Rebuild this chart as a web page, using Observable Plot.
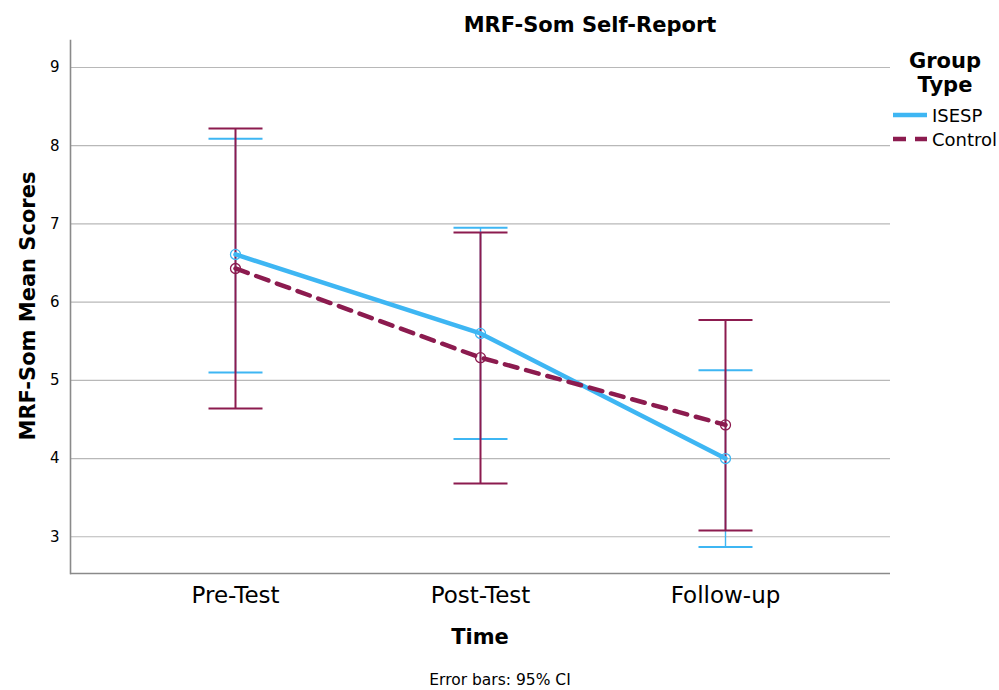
<!DOCTYPE html>
<html>
<head>
<meta charset="utf-8">
<script src="https://cdn.jsdelivr.net/npm/d3@7"></script>
<script src="https://cdn.jsdelivr.net/npm/@observablehq/plot@0.6"></script>
<style>
  html, body { margin: 0; padding: 0; background: #fff; }
  #wrap { position: relative; width: 999px; height: 690px; font-family: "DejaVu Sans", sans-serif; color: #000; }
  .abs { position: absolute; white-space: nowrap; transform: translate(-50%, -50%); }
  .legrow { position: absolute; display: flex; align-items: center; font-size: 18px; }
</style>
</head>
<body>
<div id="wrap"></div>
<script>
// ---- data ----
const times = ["Pre-Test", "Post-Test", "Follow-up"];
const groups = ["ISESP", "Control"];
const isespMean = [6.61, 5.60, 4.00];
const isespLow = [5.10, 4.25, 2.87];
const isespHigh = [8.09, 6.95, 5.13];
const controlMean = [6.43, 5.29, 4.43];
const controlLow = [4.64, 3.68, 3.08];
const controlHigh = [8.22, 6.89, 5.77];
const yTicks = [3, 4, 5, 6, 7, 8, 9];
const yDomain = [2.53, 9.345];
const colors = {ISESP: "#3eb6f3", Control: "#8c1b4f"};

const rows = [];
times.forEach((t, i) => {
  rows.push({time: t, group: "ISESP", mean: isespMean[i], low: isespLow[i], high: isespHigh[i]});
});
times.forEach((t, i) => {
  rows.push({time: t, group: "Control", mean: controlMean[i], low: controlLow[i], high: controlHigh[i]});
});
const isesp = rows.filter(d => d.group === "ISESP");
const control = rows.filter(d => d.group === "Control");

// horizontal cap symbol for error bars
const capSymbol = {
  draw(context) {
    context.moveTo(-27, 0);
    context.lineTo(27, 0);
  }
};

const errMarks = (data, color, w) => [
  Plot.ruleX(data, {x: "time", y1: "low", y2: "high", stroke: color, strokeWidth: w}),
  Plot.dot(data, {x: "time", y: "low", symbol: capSymbol, stroke: color, strokeWidth: 2, fill: "none"}),
  Plot.dot(data, {x: "time", y: "high", symbol: capSymbol, stroke: color, strokeWidth: 2, fill: "none"})
];

const chart = Plot.plot({
  width: 999,
  height: 690,
  marginLeft: 70,
  marginRight: 109,
  marginTop: 40,
  marginBottom: 117,
  style: {fontFamily: "DejaVu Sans, sans-serif", background: "transparent"},
  x: {type: "point", domain: times, padding: 0.667, label: null},
  y: {domain: yDomain, label: null},
  marks: [
    Plot.gridY(yTicks, {stroke: "#b8b8b8", strokeOpacity: 1, strokeWidth: 1.2}),
    Plot.axisY(yTicks, {tickSize: 0, tickPadding: 11, fontSize: 15, tickFormat: d3.format("d"), label: null}),
    Plot.axisX(times, {tickSize: 0, tickPadding: 13, fontSize: 23, label: null}),
    Plot.ruleY([yDomain[0]], {stroke: "#8a8a8a", strokeWidth: 1.6}),
    ...errMarks(isesp, colors.ISESP, 1.4),
    ...errMarks(control, colors.Control, 2),
    Plot.line(isesp, {x: "time", y: "mean", stroke: colors.ISESP, strokeWidth: 4.5}),
    Plot.line(control, {x: "time", y: "mean", stroke: colors.Control, strokeWidth: 4.5, strokeDasharray: "13,9"}),
    Plot.dot(isesp, {x: "time", y: "mean", r: 5, stroke: colors.ISESP, strokeWidth: 1.3, fill: "none"}),
    Plot.dot(control, {x: "time", y: "mean", r: 5, stroke: colors.Control, strokeWidth: 1.3, fill: "none"}),
    Plot.frame({anchor: "left", stroke: "#8a8a8a", strokeWidth: 1.6})
  ]
});

const wrap = document.getElementById("wrap");
chart.style.position = "absolute";
chart.style.left = "0px";
chart.style.top = "0px";
wrap.appendChild(chart);

function addText(txt, x, y, css, rotate) {
  const d = document.createElement("div");
  d.className = "abs";
  d.textContent = txt;
  d.style.left = x + "px";
  d.style.top = y + "px";
  Object.assign(d.style, css);
  if (rotate) d.style.transform = "translate(-50%, -50%) rotate(-90deg)";
  wrap.appendChild(d);
}
addText("MRF-Som Self-Report", 590, 25, {fontSize: "21px", fontWeight: "bold"});
addText("Time", 480, 637, {fontSize: "21px", fontWeight: "bold"});
addText("Error bars: 95% CI", 500, 680, {fontSize: "15.5px"});
addText("MRF-Som Mean Scores", 28, 306, {fontSize: "21px", fontWeight: "bold"}, true);
addText("Group", 945, 61, {fontSize: "21px", fontWeight: "bold"});
addText("Type", 945, 85, {fontSize: "21px", fontWeight: "bold"});

groups.forEach((g, i) => {
  const row = document.createElement("div");
  row.className = "legrow";
  row.style.left = "893px";
  row.style.top = (104 + i * 24) + "px";
  const dash = g === "Control" ? 'stroke-dasharray="13,9"' : "";
  row.innerHTML = `<svg width="36" height="22"><line x1="0" x2="34" y1="11" y2="11" stroke="${colors[g]}" stroke-width="4.5" ${dash}/></svg><span style="margin-left:3px">${g}</span>`;
  wrap.appendChild(row);
});
</script>
</body>
</html>
